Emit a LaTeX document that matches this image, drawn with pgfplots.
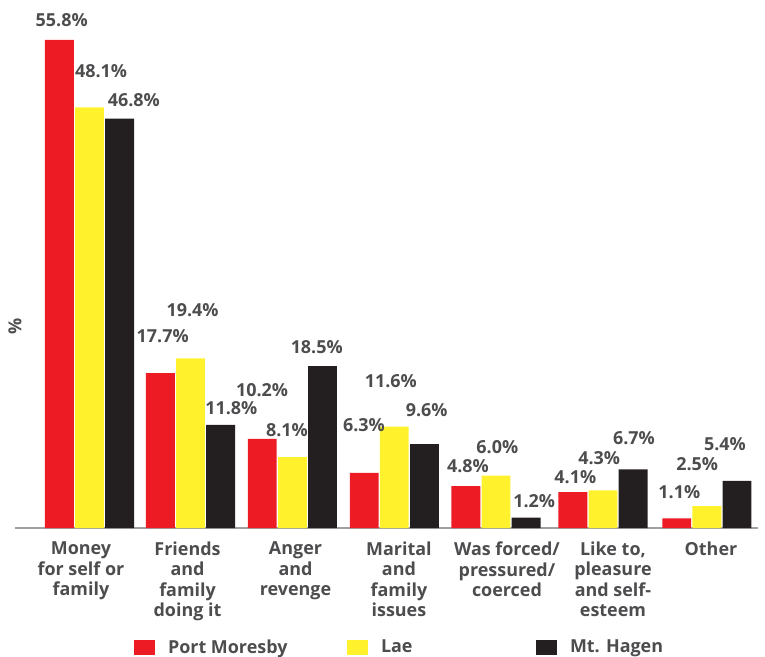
\documentclass[border=0pt]{standalone}
\usepackage{fontspec}
\setmainfont{Open Sans}
\usepackage{pgfplots}
\usepackage{pgfplotstable}
\pgfplotsset{compat=1.18}

\definecolor{pmred}{HTML}{ED1C24}
\definecolor{laeyel}{HTML}{FFF22D}
\definecolor{hagen}{HTML}{231F20}
\definecolor{txt}{HTML}{4D4D4F}
\definecolor{baseln}{HTML}{A0A0A0}

\newcommand{\lblfont}{\fontsize{18}{20.5}\selectfont\bfseries}

% x = group position, y = value, dx/dy = label offset from bar top (bp)
\pgfplotstableread{
x     y    dx    dy
0     55.8  2.3  20
0.981 17.7  2.3  36.9
1.971 10.2 -0.2  48.8
2.961 6.3  -0.2  48.2
3.949 4.8   2.1  20.3
4.988 4.1   2.5  15.1
5.997 1.1   2.6  26.1
}\portmoresby
\pgfplotstableread{
x     y    dx    dy
0     48.1 11.5  35.8
0.981 19.4  2.0  48.6
1.971 8.1  -5.5  27.5
2.961 11.6 -3.5  45.2
3.949 6.0   1.3  28.5
4.988 4.3  -3.8  32.4
5.997 2.5  -9.7  41.8
}\lae
\pgfplotstableread{
x     y    dx    dy
0     46.8 14.2  18.7
0.981 11.8 10.7  17.1
1.971 18.5 -5.8  19.2
2.961 9.6   2.2  34
3.949 1.2   8.0  16.2
4.988 6.7   0.9  31.1
5.997 5.4 -12.0  36.5
}\hagen

\begin{document}
\begin{tikzpicture}
\begin{axis}[
    scale only axis,
    width=743bp, height=524.8bp,
    xmin=-0.724, xmax=6.494,
    ymin=0, ymax=60,
    ybar=1.3bp, bar width=0.28,
    clip=false,
    axis x line*=bottom, axis y line*=left,
    x axis line style={-, draw=baseln, line width=1.4bp},
    y axis line style={draw=none},
    ytick=\empty,
    major tick length=0pt,
    xtick={-0.083,0.952,2.001,3.006,4.055,5.085,6.037},
    xticklabels={{Money\\for self or\\family},
                 {Friends\\and\\family\\doing it},
                 {Anger\\and\\revenge},
                 {Marital\\and\\family\\issues},
                 {Was forced/\\pressured/\\coerced},
                 {Like to,\\pleasure\\and self-\\esteem},
                 {Other}},
    xticklabel style={align=center, anchor=north, inner sep=0pt,
                      yshift=-13.7bp, font=\lblfont, text=txt},
    ylabel={\%},
    ylabel style={at={(rel axis cs:0,0.381)}, anchor=center,
                  xshift=1.7bp, font=\lblfont, text=txt},
    /pgf/number format/assume math mode=true,
    nodes near coords={\pgfmathprintnumber[fixed,fixed zerofill,precision=1]{\pgfplotspointmeta}\%},
    every node near coord/.append style={anchor=center, inner sep=0pt,
                      xshift=\dx bp, yshift=\dy bp, font=\lblfont, text=txt},
    visualization depends on={\thisrow{dx} \as \dx},
    visualization depends on={\thisrow{dy} \as \dy},
    legend columns=3,
    legend cell align=left,
    legend style={at={(axis description cs:0.1602,-0.2268)}, anchor=west,
                  draw=none, fill=none, inner sep=0pt, outer sep=0pt,
                  column sep=0pt, font=\lblfont, text=txt,
                  nodes={inner sep=0pt}},
    sq/.style={legend image code/.code={
        \fill[##1] (0bp,-7.5bp) rectangle (21bp,7.5bp);
        \path (34bp,0bp);}},
]
\addplot[fill=pmred, draw=none, sq] table[x=x, y=y] {\portmoresby};
\addlegendentry{\makebox[179bp][l]{Port Moresby}}
\addplot[fill=laeyel, draw=none, sq] table[x=x, y=y] {\lae};
\addlegendentry{\makebox[155bp][l]{Lae}}
\addplot[fill=hagen, draw=none, sq] table[x=x, y=y] {\hagen};
\addlegendentry{Mt. Hagen}
\end{axis}
\pgfresetboundingbox
\path[use as bounding box]
    ([shift={(-15bp,-129bp)}]current axis.south west) rectangle
    ([shift={(750bp,528bp)}]current axis.south west);
\end{tikzpicture}
\end{document}
